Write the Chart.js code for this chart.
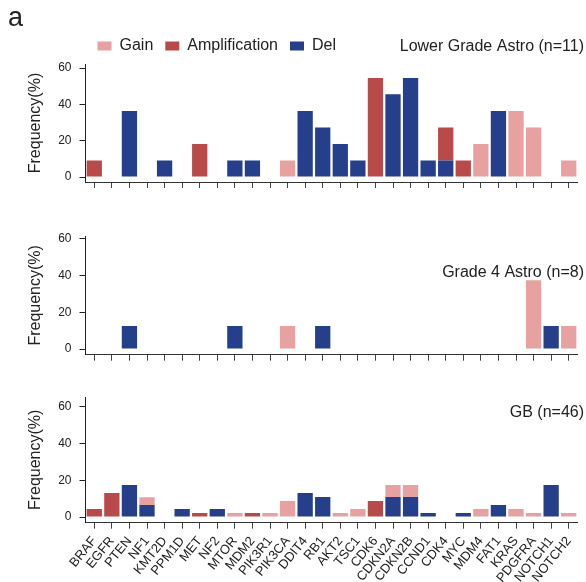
<!DOCTYPE html>
<html>
<head>
<meta charset="utf-8">
<script src="https://cdn.jsdelivr.net/npm/chart.js@4.4.1/dist/chart.umd.min.js"></script>
<style>
  html, body { margin: 0; padding: 0; background: #fff; }
  #wrap { position: relative; width: 586px; height: 582px; }
  .panel { position: absolute; left: 0; width: 586px; }
</style>
</head>
<body>
<div id="wrap">
  <div class="panel" style="top:0;height:200px"><canvas id="p1"></canvas></div>
  <div class="panel" style="top:200px;height:180px"><canvas id="p2"></canvas></div>
  <div class="panel" style="top:380px;height:202px"><canvas id="p3"></canvas></div>
</div>
<script>
const GENES = ["BRAF", "EGFR", "PTEN", "NF1", "KMT2D", "PPM1D", "MET", "NF2", "MTOR", "MDM2",
    "PIK3R1", "PIK3CA", "DDIT4", "RB1", "AKT2", "TSC1", "CDK6", "CDKN2A", "CDKN2B", "CCND1",
    "CDK4", "MYC", "MDM4", "FAT1", "KRAS", "PDGFRA", "NOTCH1", "NOTCH2"];

// Lower Grade Astro (n=11)
const LGA_GAIN = [0, 0, 0, 0, 0, 0, 0, 0, 0, 0, 0, 9.1, 0, 0, 0, 0, 0, 0, 0, 0, 0, 0, 18.2, 0, 36.4, 27.3, 0, 9.1];
const LGA_AMP  = [9.1, 0, 0, 0, 0, 0, 18.2, 0, 0, 0, 0, 0, 0, 0, 0, 0, 54.5, 0, 0, 0, 18.2, 9.1, 0, 0, 0, 0, 0, 0];
const LGA_DEL  = [0, 0, 36.4, 0, 9.1, 0, 0, 0, 9.1, 9.1, 0, 0, 36.4, 27.3, 18.2, 9.1, 0, 45.5, 54.5, 9.1, 9.1, 0, 0, 36.4, 0, 0, 0, 0];

// Grade 4 Astro (n=8)
const G4_GAIN = [0, 0, 0, 0, 0, 0, 0, 0, 0, 0, 0, 12.5, 0, 0, 0, 0, 0, 0, 0, 0, 0, 0, 0, 0, 0, 37.5, 0, 12.5];
const G4_AMP  = [0, 0, 0, 0, 0, 0, 0, 0, 0, 0, 0, 0, 0, 0, 0, 0, 0, 0, 0, 0, 0, 0, 0, 0, 0, 0, 0, 0];
const G4_DEL  = [0, 0, 12.5, 0, 0, 0, 0, 0, 12.5, 0, 0, 0, 0, 12.5, 0, 0, 0, 0, 0, 0, 0, 0, 0, 0, 0, 0, 12.5, 0];

// GB (n=46)
const GB_GAIN = [0, 0, 0, 4.3, 0, 0, 0, 0, 2.2, 0, 2.2, 8.7, 0, 0, 2.2, 4.3, 0, 6.5, 6.5, 0, 0, 0, 4.3, 0, 4.3, 2.2, 0, 2.2];
const GB_AMP  = [4.3, 13.0, 0, 0, 0, 0, 2.2, 0, 0, 2.2, 0, 0, 0, 0, 0, 0, 8.7, 0, 0, 0, 0, 0, 0, 0, 0, 0, 0, 0];
const GB_DEL  = [0, 0, 17.4, 6.5, 0, 4.3, 0, 4.3, 0, 0, 0, 0, 13.0, 10.9, 0, 0, 0, 10.9, 10.9, 2.2, 0, 2.2, 0, 6.5, 0, 0, 17.4, 0];

const Y_TICKS = [0, 20, 40, 60];

const COLORS = { gain: "#e7a1a1", amp: "#b94a4a", del: "#253f8a" };
const FONT = "'Liberation Sans', Arial, sans-serif";
const INK = "#222";

Chart.defaults.font.family = FONT;
Chart.defaults.color = INK;

// draws free text (panel captions, panel letter) onto the canvas
const captionPlugin = {
    id: "captions",
    afterDraw(chart, _, opts) {
        const ctx = chart.ctx;
        (opts.items || []).forEach(item => {
            ctx.save();
            ctx.font = item.font;
            ctx.fillStyle = INK;
            ctx.textAlign = item.align;
            ctx.textBaseline = item.baseline || "middle";
            ctx.fillText(item.text, item.x, item.y);
            ctx.restore();
        });
    }
};

function makePanel(id, gain, amp, del, cfg) {
    return new Chart(document.getElementById(id), {
        type: "bar",
        data: {
            labels: GENES,
            datasets: [
                { label: "Del", data: del, backgroundColor: COLORS.del },
                { label: "Amplification", data: amp, backgroundColor: COLORS.amp },
                { label: "Gain", data: gain, backgroundColor: COLORS.gain }
            ]
        },
        options: {
            responsive: true,
            maintainAspectRatio: false,
            animation: false,
            barPercentage: 0.87,
            categoryPercentage: 1,
            layout: { padding: cfg.padding },
            plugins: {
                legend: getLegend(cfg.legend),
                tooltip: { enabled: false },
                captions: { items: cfg.captions }
            },
            scales: getScales(cfg)
        },
        plugins: [captionPlugin]
    });
}

function getLegend(show) {
    return {
        display: show,
        position: "top",
        align: "start",
        fullSize: false,
        reverse: true,
        labels: {
            boxWidth: 14,
            boxHeight: 9,
            padding: 12,
            color: INK,
            font: { size: 16 }
        }
    };
}

function getScales(cfg) {
    return {
        x: {
            stacked: true,
            offset: true,
            afterFit: s => { s.height = cfg.xHeight; },
            border: { display: true, color: "#333" },
            grid: { offset: false, drawOnChartArea: false, drawTicks: true, tickLength: 6, color: "#444" },
            ticks: {
                display: cfg.xLabels,
                autoSkip: false,
                minRotation: 51,
                maxRotation: 51,
                padding: 5,
                color: INK,
                font: { size: 13 }
            }
        },
        y: {
            stacked: true,
            min: cfg.yMin,
            max: cfg.yMax,
            afterBuildTicks: s => { s.ticks = Y_TICKS.map(v => ({ value: v })); },
            afterFit: s => { s.width = 85.5; },
            border: { display: true, color: "#222" },
            grid: { drawOnChartArea: false, drawTicks: true, tickLength: 6, color: "#222" },
            ticks: { padding: 8, color: INK, font: { size: 12 } },
            title: {
                display: true,
                text: "Frequency(%)",
                color: INK,
                font: { size: 16 },
                padding: { top: 26, bottom: 0 }
            }
        }
    };
}

makePanel("p1", LGA_GAIN, LGA_AMP, LGA_DEL, {
    legend: true,
    padding: { top: 26, left: 0, right: 8.5, bottom: 12 },
    xHeight: 6,
    xLabels: false,
    yMin: -2.7,
    yMax: 62.2,
    captions: [
        { text: "Lower Grade Astro (n=11)", x: 584, y: 47, align: "right", font: "16px " + FONT },
        { text: "a", x: 8, y: 26, align: "left", baseline: "alphabetic", font: "27px " + FONT }
    ]
});

makePanel("p2", G4_GAIN, G4_AMP, G4_DEL, {
    legend: false,
    padding: { top: 36, left: 0, right: 8.5, bottom: 19.3 },
    xHeight: 6,
    xLabels: false,
    yMin: -3.1,
    yMax: 61.6,
    captions: [
        { text: "Grade 4 Astro (n=8)", x: 584, y: 73, align: "right", font: "16px " + FONT }
    ]
});

makePanel("p3", GB_GAIN, GB_AMP, GB_DEL, {
    legend: false,
    padding: { top: 17, left: 0, right: 8.5, bottom: 0 },
    xHeight: 59.3,
    xLabels: true,
    yMin: -3.1,
    yMax: 65.3,
    captions: [
        { text: "GB (n=46)", x: 584, y: 33, align: "right", font: "16px " + FONT }
    ]
});
</script>
</body>
</html>
